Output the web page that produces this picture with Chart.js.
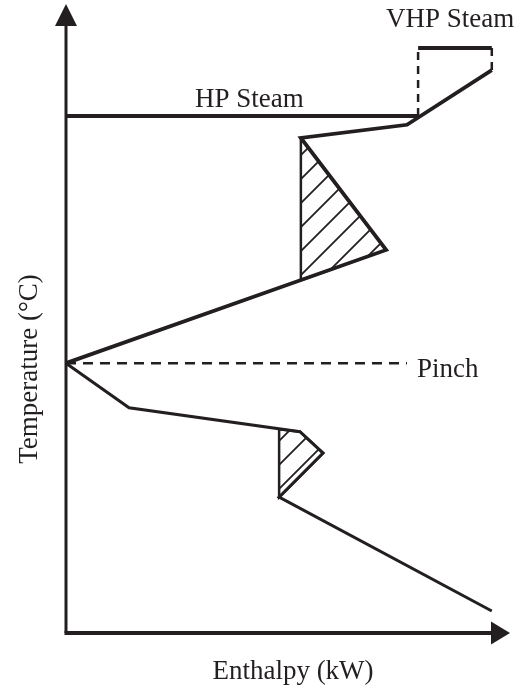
<!DOCTYPE html>
<html>
<head>
<meta charset="utf-8">
<script src="https://cdn.jsdelivr.net/npm/chart.js@4/dist/chart.umd.min.js"></script>
<style>
  html, body { margin: 0; padding: 0; background: #fff; }
  canvas { display: block; }
</style>
</head>
<body>
<canvas id="gcc_chart" width="532" height="692"></canvas>
<script>
// grand composite curve, arbitrary units (no ticks on the original)
const upperEnthalpy = [0, 72.1, 52.9, 76.8, 95.9];
const upperTemp = [42.9, 60.9, 78.7, 80.8, 89.5];
const lowerEnthalpy = [0, 14.2, 52.7, 57.9, 48.0, 95.9];
const lowerTemp = [42.9, 35.8, 32.0, 28.6, 21.6, 3.5];

const hpEnthalpy = [0, 79.3];
const hpTemp = 82.2;
const vhpEnthalpy = [79.3, 95.9];
const vhpTemp = 93.0;

const pinchTemp = 42.9;
const pinchEnd = 76.8;

// pockets (hatched)
const pocket1Enthalpy = [52.9, 72.1, 52.9, 52.9];
const pocket1Temp = [78.7, 60.9, 56.1, 78.7];
const pocket2Enthalpy = [48.0, 52.7, 57.9, 48.0, 48.0];
const pocket2Temp = [32.4, 32.0, 28.6, 21.6, 32.4];

const labels = {
  x: "Enthalpy (kW)",
  y: "Temperature (\u00b0C)",
  hp: "HP Steam",
  vhp: "VHP Steam",
  pinch: "Pinch",
};

const ink = "#231f20";
const fontSpec = "27px 'Liberation Serif', 'Times New Roman', serif";

const toPoints = (xs, ys) => xs.map((x, i) => ({ x, y: ys[i] }));

// hatch pattern
function makeHatch() {
  const size = 24;
  const c = document.createElement("canvas");
  c.width = size;
  c.height = size;
  const g = c.getContext("2d");
  g.strokeStyle = ink;
  g.lineWidth = 1.8;
  g.beginPath();
  g.moveTo(0, size);
  g.lineTo(size, 0);
  g.moveTo(-2, 2);
  g.lineTo(2, -2);
  g.moveTo(size - 2, size + 2);
  g.lineTo(size + 2, size - 2);
  g.stroke();
  return g.createPattern(c, "repeat");
}
const hatch = makeHatch();

const lineDefaults = {
  showLine: true,
  pointRadius: 0,
  borderColor: ink,
  fill: false,
  clip: false,
  tension: 0,
  order: 1,
};

const datasets = [
  {
    ...lineDefaults,
    data: toPoints(pocket1Enthalpy, pocket1Temp),
    borderWidth: 2.5,
    backgroundColor: hatch,
    fill: "shape",
    order: 5,
  },
  {
    ...lineDefaults,
    data: toPoints(pocket2Enthalpy, pocket2Temp),
    borderWidth: 2.5,
    backgroundColor: hatch,
    fill: "shape",
    order: 5,
  },
  { ...lineDefaults, data: toPoints(upperEnthalpy, upperTemp), borderWidth: 3.8 },
  { ...lineDefaults, data: toPoints(lowerEnthalpy, lowerTemp), borderWidth: 3 },
  {
    ...lineDefaults,
    data: toPoints(hpEnthalpy, [hpTemp, hpTemp]),
    borderWidth: 4,
  },
  {
    ...lineDefaults,
    data: toPoints(vhpEnthalpy, [vhpTemp, vhpTemp]),
    borderWidth: 4,
  },
  {
    ...lineDefaults,
    data: toPoints([vhpEnthalpy[0], vhpEnthalpy[0]], [hpTemp, vhpTemp]),
    borderWidth: 2.5,
    borderDash: [8, 6],
  },
  {
    ...lineDefaults,
    data: toPoints([vhpEnthalpy[1], vhpEnthalpy[1]], [upperTemp[4], vhpTemp]),
    borderWidth: 2.5,
    borderDash: [8, 6],
  },
  {
    ...lineDefaults,
    data: toPoints([0, pinchEnd], [pinchTemp, pinchTemp]),
    borderWidth: 2.5,
    borderDash: [10, 7],
  },
];

// axes with arrow heads + text
const decor = {
  id: "decor",
  beforeDatasetsDraw(chart) {
    const { ctx, chartArea: a } = chart;
    ctx.save();
    ctx.strokeStyle = ink;
    ctx.fillStyle = ink;
    // y axis
    ctx.lineWidth = 3;
    ctx.beginPath();
    ctx.moveTo(a.left, a.bottom);
    ctx.lineTo(a.left, a.top + 20);
    ctx.stroke();
    ctx.beginPath();
    ctx.moveTo(a.left, a.top);
    ctx.lineTo(a.left - 11, a.top + 22);
    ctx.lineTo(a.left + 11, a.top + 22);
    ctx.closePath();
    ctx.fill();
    // x axis
    ctx.lineWidth = 4;
    ctx.beginPath();
    ctx.moveTo(a.left - 1.5, a.bottom);
    ctx.lineTo(a.right - 18, a.bottom);
    ctx.stroke();
    ctx.beginPath();
    ctx.moveTo(a.right, a.bottom);
    ctx.lineTo(a.right - 19, a.bottom - 11.5);
    ctx.lineTo(a.right - 19, a.bottom + 11.5);
    ctx.closePath();
    ctx.fill();
    ctx.restore();
  },
  afterDraw(chart) {
    const { ctx, scales } = chart;
    const ys = scales.y;
    ctx.save();
    ctx.fillStyle = ink;
    ctx.font = fontSpec;
    ctx.textBaseline = "alphabetic";

    ctx.textAlign = "left";
    ctx.fillText(labels.hp, 195, ys.getPixelForValue(hpTemp) - 9);
    ctx.fillText(labels.vhp, 386, 27);
    ctx.fillText(labels.pinch, 417, ys.getPixelForValue(pinchTemp) + 14);

    ctx.textAlign = "center";
    ctx.fillText(labels.x, 293, 679);

    ctx.translate(37, 369);
    ctx.rotate(-Math.PI / 2);
    ctx.fillText(labels.y, 0, 0);
    ctx.restore();
  },
};

const gcc_chart = new Chart(document.getElementById("gcc_chart"), {
  type: "scatter",
  data: { datasets },
  options: {
    responsive: false,
    animation: false,
    events: [],
    layout: { padding: { left: 66, top: 4, right: 22, bottom: 59 } },
    scales: {
      x: { type: "linear", min: 0, max: 100, display: false },
      y: { type: "linear", min: 0, max: 100, display: false },
    },
    plugins: {
      legend: { display: false },
      tooltip: { enabled: false },
    },
  },
  plugins: [decor],
});
</script>
</body>
</html>
